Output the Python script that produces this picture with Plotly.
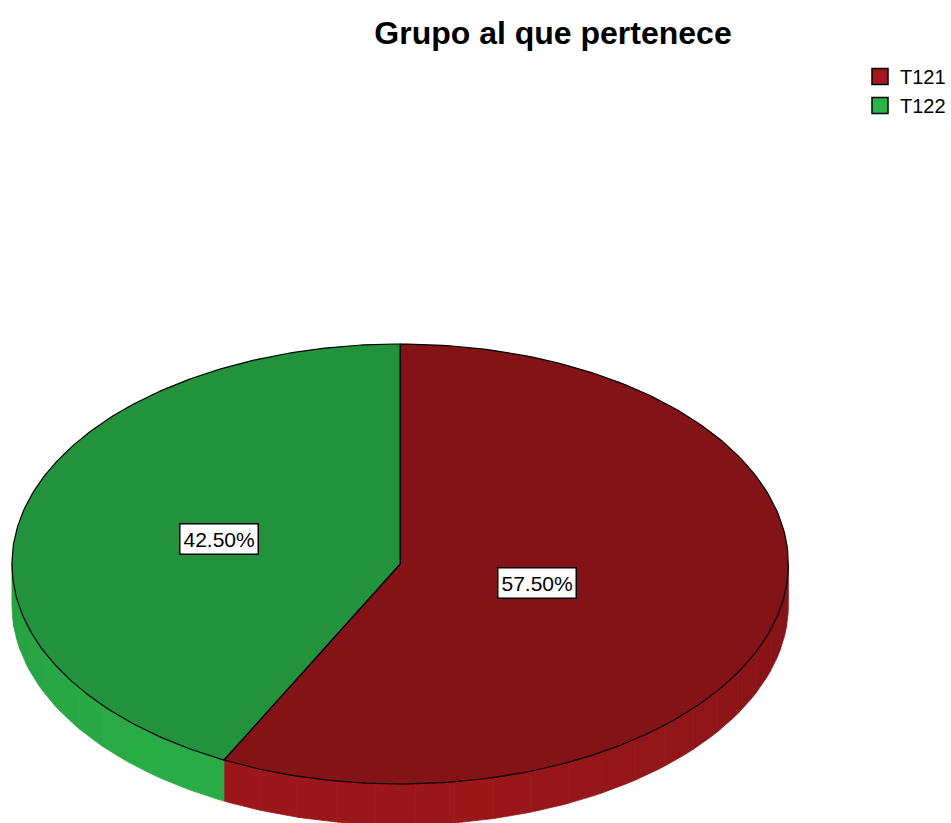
import numpy as np
import plotly.graph_objects as go

# ---- data ----
categories = ["T121", "T122"]
percentages = [57.5, 42.5]
label_texts = [f"{p:.2f}%" for p in percentages]
title_text = "Grupo al que pertenece"

# ---- style ----
base_colors = [(163, 24, 28), (43, 180, 74)]
TOP_SHADE = 0.81
W, H = 951, 823
cx, cy, rx, ry, depth = 401, 564, 389, 220, 41
label_frac = [0.362, 0.481]
FONT = "Liberation Sans, Arial, sans-serif"


def rgb(c, f):
    return "rgb(%d,%d,%d)" % tuple(min(255, int(round(v * f))) for v in c)


def ell(theta_deg, dy=0.0):
    t = np.radians(theta_deg)
    return cx + rx * np.sin(t), cy - ry * np.cos(t) + dy


fig = go.Figure()

total = sum(percentages)
angles = np.concatenate([[0], np.cumsum(percentages) / total * 360.0])

# side (visible lower half: 90..270 degrees clockwise from top)
for i in range(len(categories)):
    a0, a1 = max(angles[i], 90.0), min(angles[i + 1], 270.0)
    if a1 <= a0:
        continue
    n = max(1, int(np.ceil((a1 - a0) / 6.0)))
    edges = np.linspace(a0, a1, n + 1)
    for s in range(n):
        th = np.linspace(edges[s], edges[s + 1], 8)
        xt, yt = ell(th)
        xb, yb = ell(th[::-1], depth)
        mid = 0.5 * (edges[s] + edges[s + 1])
        f = 0.84 + 0.12 * np.cos(np.radians(mid - 200.0))
        col = rgb(base_colors[i], f)
        fig.add_trace(go.Scatter(
            x=np.concatenate([xt, xb, xt[:1]]), y=np.concatenate([yt, yb, yt[:1]]),
            mode="lines", fill="toself", fillcolor=col,
            line=dict(color=col, width=0.8), hoverinfo="skip", showlegend=False))

# top faces
for i in range(len(categories)):
    th = np.linspace(angles[i], angles[i + 1], 200)
    xs, ys = ell(th)
    x = np.concatenate([[cx], xs, [cx]])
    y = np.concatenate([[cy], ys, [cy]])
    fig.add_trace(go.Scatter(
        x=x, y=y, mode="lines", fill="toself",
        fillcolor=rgb(base_colors[i], TOP_SHADE),
        line=dict(color="black", width=1.2), hoverinfo="skip", showlegend=False))

# legend entries
for i, name in enumerate(categories):
    fig.add_trace(go.Scatter(
        x=[None], y=[None], mode="markers", name=name,
        marker=dict(symbol="square", size=16, color=rgb(base_colors[i], 1.0),
                    line=dict(color="black", width=1.5))))

# labels
for i in range(len(categories)):
    mid = 0.5 * (angles[i] + angles[i + 1])
    t = np.radians(mid)
    lx = cx + rx * label_frac[i] * np.sin(t)
    ly = cy - ry * label_frac[i] * np.cos(t)
    fig.add_annotation(x=lx, y=ly, text=label_texts[i], showarrow=False,
                       font=dict(family=FONT, size=21, color="black"),
                       bgcolor="white", bordercolor="black", borderwidth=1.5,
                       borderpad=3)

fig.update_layout(
    width=W, height=H, margin=dict(l=0, r=0, t=0, b=0),
    paper_bgcolor="white", plot_bgcolor="white",
    xaxis=dict(range=[0, W], visible=False, fixedrange=True),
    yaxis=dict(range=[H, 0], visible=False, fixedrange=True),
    title=dict(text="<b>%s</b>" % title_text, x=553 / W, xanchor="center",
               y=1 - 33 / H, yanchor="middle", yref="container",
               font=dict(family=FONT, size=32, color="black")),
    legend=dict(x=862 / W, xanchor="left", y=1 - 57 / H, yanchor="top",
                font=dict(family=FONT, size=20, color="black"),
                bgcolor="rgba(0,0,0,0)", itemwidth=30, tracegroupgap=0),
    showlegend=True,
)

fig.write_html("out.html",
               config={"displayModeBar": False},
               post_script="document.body.style.margin='0';"
                           "document.body.style.overflow='hidden';")
